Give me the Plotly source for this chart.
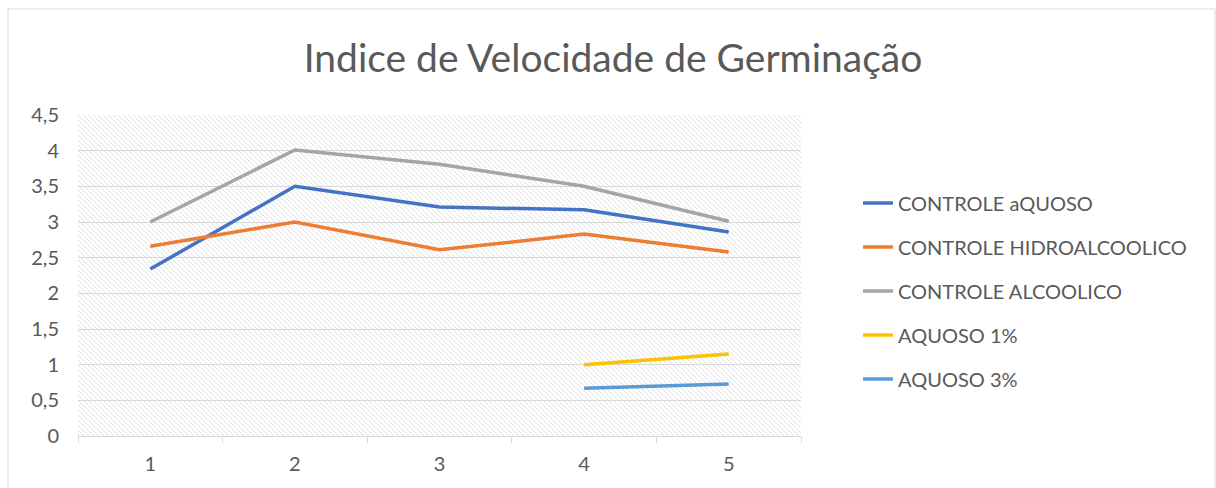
import base64
import plotly.graph_objects as go

categories = ["1", "2", "3", "4", "5"]
controle_aquoso = [2.34, 3.5, 3.21, 3.17, 2.86]
controle_hidro = [2.66, 3.0, 2.61, 2.83, 2.58]
controle_alcoolico = [3.0, 4.01, 3.81, 3.5, 3.01]
aquoso_1 = [None, None, None, 1.0, 1.15]
aquoso_3 = [None, None, None, 0.67, 0.73]

series = [
    ("CONTROLE aQUOSO", controle_aquoso, "#4472C4"),
    ("CONTROLE HIDROALCOOLICO", controle_hidro, "#ED7D31"),
    ("CONTROLE ALCOOLICO", controle_alcoolico, "#A5A5A5"),
    ("AQUOSO 1%", aquoso_1, "#FFC000"),
    ("AQUOSO 3%", aquoso_3, "#5B9BD5"),
]

fig = go.Figure()
for i, (name, vals, col) in enumerate(series):
    fig.add_trace(go.Scatter(x=categories, y=vals, name=name, mode="lines",
                             line=dict(color=col, width=3.5), legendgroup=str(i),
                             connectgaps=False))

# hatched background pattern
svg = ('<svg xmlns="http://www.w3.org/2000/svg" width="723" height="321">'
       '<defs><pattern id="p" width="5" height="5" patternUnits="userSpaceOnUse">'
       '<path d="M-1,-1 L6,6 M-1,4 L1,6 M4,-1 L6,1" stroke="#e0e0e0" stroke-width="1"/>'
       '</pattern></defs><rect width="723" height="321" fill="url(#p)"/></svg>')
src = "data:image/svg+xml;base64," + base64.b64encode(svg.encode()).decode()

L, R, T, B = 78, 415, 115, 52
W, H = 1216, 488
pw, ph = W - L - R, H - T - B

fig.update_layout(
    width=W, height=H,
    margin=dict(l=L, r=R, t=T, b=B, autoexpand=False),
    paper_bgcolor="white", plot_bgcolor="white",
    font=dict(family="Lato, Open Sans, sans-serif", color="#595959", size=20),
    title=dict(text="Indice de Velocidade de Germinação", x=613 / W, xref="container",
               xanchor="center", y=1 - 58 / H, yref="container", yanchor="middle",
               font=dict(size=39, color="#595959")),
    images=[dict(source=src, xref="paper", yref="paper", x=0, y=1, sizex=1, sizey=1,
                 xanchor="left", yanchor="top", sizing="stretch", layer="below")],
    legend=dict(x=(858 - L) / pw, xanchor="left", y=(436 - 291) / ph, yanchor="middle",
                font=dict(size=20, color="#595959"), tracegroupgap=15,
                bgcolor="rgba(0,0,0,0)"),
    xaxis=dict(type="category", range=[-0.5, 4.5], tickson="boundaries", ticks="outside",
               ticklen=6, tickcolor="#d9d9d9", showline=True, linecolor="#d9d9d9",
               linewidth=1, showgrid=False, ticklabelstandoff=10,
               tickfont=dict(size=20, color="#595959"), automargin=False),
    yaxis=dict(range=[0, 4.5], dtick=0.5, showgrid=True,
               gridcolor="#d9d9d9", gridwidth=1, zeroline=False, showline=False,
               ticks="", ticklabelstandoff=18, automargin=False,
               tickfont=dict(size=20, color="#595959")),
    separators=", ",
    shapes=[dict(type="rect", xref="paper", yref="paper",
                 x0=(8 - L) / pw, x1=(1215 - L) / pw,
                 y0=-(B + 5) / ph, y1=1 + (T - 9) / ph,
                 line=dict(color="#d9d9d9", width=1), fillcolor="rgba(0,0,0,0)",
                 layer="below")],
)

fig.write_html("out.html", config={"displayModeBar": False},
               post_script="document.body.style.margin='0';document.body.style.overflow='hidden';")
